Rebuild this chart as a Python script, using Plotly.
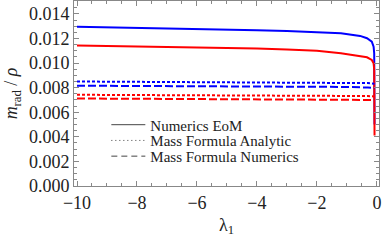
import plotly.graph_objects as go

# --- data ---
lam_eom = [-10, -9, -8, -7, -6, -5, -4, -3, -2, -1.2, -0.56, -0.33, -0.17, -0.11, -0.09, -0.082, -0.08, -0.079]
blue_eom = [0.01296, 0.01292, 0.01288, 0.01284, 0.01279, 0.01275, 0.01268, 0.01261, 0.01252, 0.01243,
            0.01221, 0.01202, 0.01175, 0.01134, 0.01080, 0.00950, 0.00700, 0.00500]
red_eom = [0.01142, 0.01139, 0.01136, 0.01132, 0.01128, 0.01125, 0.01118, 0.01110, 0.01100, 0.01080,
           0.01060, 0.01047, 0.01025, 0.00998, 0.00950, 0.00800, 0.00600, 0.00410]

lam_mf = [-10, -5, -1, -0.3, -0.08]
blue_analytic = [0.00850, 0.00846, 0.00840, 0.00837, 0.00832]
blue_numerics = [0.00816, 0.00812, 0.00806, 0.00801, 0.00796]
red_analytic = [0.00742, 0.00739, 0.00735, 0.00732, 0.00729]
red_numerics = [0.00712, 0.00709, 0.00705, 0.00702, 0.00700]

legend_labels = ["Numerics EoM", "Mass Formula Analytic", "Mass Formula Numerics"]
yticks = [0.000, 0.002, 0.004, 0.006, 0.008, 0.010, 0.012, 0.014]
xticks = [-10, -8, -6, -4, -2, 0]

BLUE = "#0000FF"
RED = "#FF0000"
FONT = "Liberation Serif"
DOT = "3px,2px"
DASH = "8px,3px"

fig = go.Figure()

# coloured curves (not in legend)
fig.add_trace(go.Scatter(x=lam_eom, y=blue_eom, mode="lines", line=dict(color=BLUE, width=2), showlegend=False))
fig.add_trace(go.Scatter(x=lam_eom, y=red_eom, mode="lines", line=dict(color=RED, width=2), showlegend=False))
fig.add_trace(go.Scatter(x=lam_mf, y=blue_analytic, mode="lines", line=dict(color=BLUE, width=2, dash=DOT), showlegend=False))
fig.add_trace(go.Scatter(x=lam_mf, y=blue_numerics, mode="lines", line=dict(color=BLUE, width=2, dash=DASH), showlegend=False))
fig.add_trace(go.Scatter(x=lam_mf, y=red_analytic, mode="lines", line=dict(color=RED, width=2, dash=DOT), showlegend=False))
fig.add_trace(go.Scatter(x=lam_mf, y=red_numerics, mode="lines", line=dict(color=RED, width=2, dash=DASH), showlegend=False))

# legend entries in black, one legend per row for tight spacing
legend_ids = ["legend", "legend2", "legend3"]
legend_rows_y = [0.33, 0.245, 0.16]
for name, dash, lid in zip(legend_labels, ["solid", "1px,3px", "6px,4px"], legend_ids):
    fig.add_trace(go.Scatter(x=[None], y=[None], mode="lines", name=name, legend=lid,
                             line=dict(color="#444444", width=1, dash=dash)))

axis_common = dict(
    showline=True, mirror="allticks", linecolor="#888888", linewidth=1,
    ticks="inside", ticklen=5, tickcolor="#888888", tickwidth=1,
    showgrid=False, zeroline=False,
    tickfont=dict(family=FONT, size=18, color="#222222"),
)

fig.update_xaxes(
    range=[-10.1, 0.07], tickvals=xticks,
    minor=dict(dtick=0.5, ticks="inside", ticklen=3, tickcolor="#888888", showgrid=False),
    title=dict(text="λ<sub>1</sub>", font=dict(family=FONT, size=18, color="#222222"), standoff=6),
    **axis_common,
)
fig.update_yaxes(
    range=[0, 0.01505], tickvals=yticks, tickformat=".3f",
    minor=dict(dtick=0.0005, ticks="inside", ticklen=3, tickcolor="#888888", showgrid=False),
    title=dict(text="<i>m</i><sub>rad</sub> / <i>ρ</i>", font=dict(family=FONT, size=18, color="#222222"), standoff=6),
    **axis_common,
)

leg_style = dict(xanchor="left", yanchor="middle", bgcolor="rgba(0,0,0,0)",
                 font=dict(family=FONT, size=15, color="#222222"), itemwidth=34)
layout_legends = {lid: dict(x=0.106, y=yy, **leg_style) for lid, yy in zip(legend_ids, legend_rows_y)}

fig.update_layout(
    width=382, height=241,
    margin=dict(l=74, r=3, t=1, b=55, autoexpand=False),
    paper_bgcolor="white", plot_bgcolor="white",
    showlegend=True,
    **layout_legends,
)

fig.write_html("out.html", config={"displayModeBar": False},
               post_script="document.body.style.margin='0';document.body.style.padding='0';")
